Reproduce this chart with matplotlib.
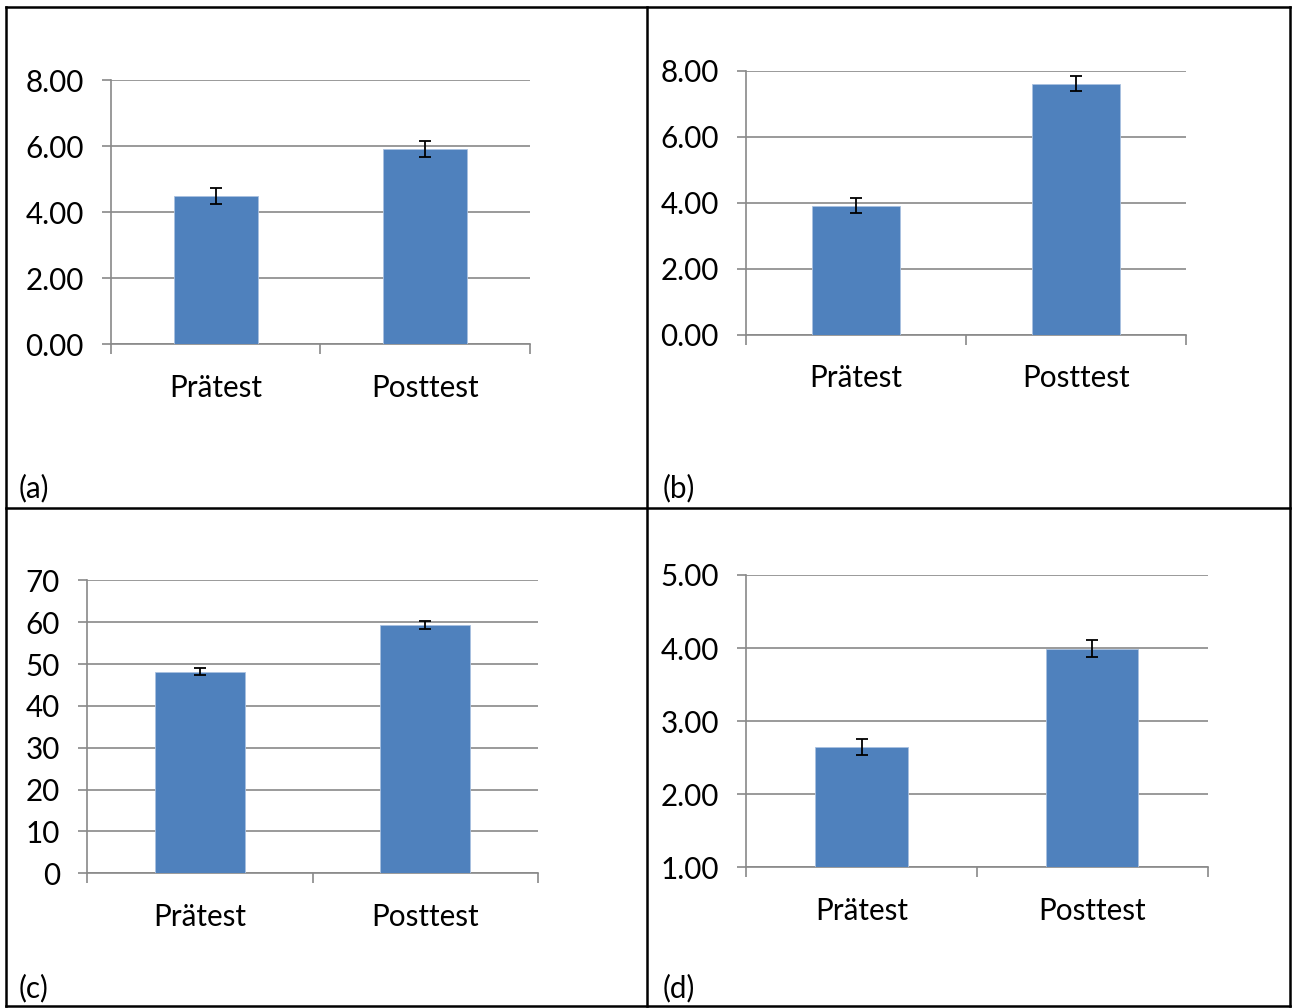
import matplotlib
matplotlib.use("Agg")
import matplotlib.pyplot as plt
from matplotlib.lines import Line2D
from matplotlib.ticker import FormatStrFormatter

plt.rcParams['font.family'] = ['Lato', 'DejaVu Sans']

# ---------------- data ----------------
categories = ["Prätest", "Posttest"]
panel_labels = ["(a)", "(b)", "(c)", "(d)"]

means_a = [4.49, 5.92]
err_a = [0.25, 0.25]
ticks_a = [0, 2, 4, 6, 8]

means_b = [3.91, 7.61]
err_b = [0.22, 0.22]
ticks_b = [0, 2, 4, 6, 8]

means_c = [48.2, 59.3]
err_c = [0.9, 0.92]
ticks_c = [0, 10, 20, 30, 40, 50, 60, 70]

means_d = [2.65, 3.99]
err_d = [0.11, 0.115]
ticks_d = [1, 2, 3, 4, 5]

# ---------------- style ----------------
BLUE = "#4F81BD"
EDGE = "#A9C1E0"
GRID = "#898989"
FS = 21.3

W, H = 1294, 1008
fig = plt.figure(figsize=(W / 100, H / 100), dpi=100)


def px_axes(x0, x1, ytop, ybot):
    return fig.add_axes([x0 / W, 1 - ybot / H, (x1 - x0) / W, (ybot - ytop) / H])


panels = [
    (px_axes(111, 529.6, 80.3, 344.0), means_a, err_a, ticks_a, "%.2f"),
    (px_axes(745.8, 1186.0, 70.7, 334.5), means_b, err_b, ticks_b, "%.2f"),
    (px_axes(87.1, 538.0, 580.3, 873.3), means_c, err_c, ticks_c, "%d"),
    (px_axes(746.2, 1207.7, 575.0, 867.3), means_d, err_d, ticks_d, "%.2f"),
]

for ax, means, errs, ticks, fmt in panels:
    x = list(range(len(categories)))
    ax.bar(x, means, width=0.4, color=BLUE, edgecolor=EDGE, linewidth=0.6,
           yerr=errs, capsize=4.3, zorder=3,
           error_kw=dict(elinewidth=1.3, capthick=1.3, ecolor="black", zorder=4))
    ax.set_xlim(-0.5, len(categories) - 0.5)
    ax.set_ylim(ticks[0], ticks[-1])
    ax.set_yticks(ticks)
    ax.yaxis.set_major_formatter(FormatStrFormatter(fmt))
    ax.grid(axis="y", color=GRID, linewidth=1.2, zorder=0)
    ax.set_axisbelow(True)
    for s in ("top", "right"):
        ax.spines[s].set_visible(False)
    for s in ("left", "bottom"):
        ax.spines[s].set_color(GRID)
        ax.spines[s].set_linewidth(1.2)
    ax.set_xticks(x)
    ax.set_xticklabels(categories)
    ax.set_xticks([i - 0.5 for i in range(len(categories) + 1)], minor=True)
    ax.tick_params(axis="x", which="major", length=0, pad=21.5, labelsize=FS)
    ax.tick_params(axis="x", which="minor", length=7.2, width=1.2, color=GRID,
                   direction="out")
    ax.tick_params(axis="y", which="major", length=6.5, width=1.2, color=GRID,
                   pad=13, labelsize=FS)

# panel labels
label_pos = [(19, 497), (663, 497), (19, 997), (663, 997)]
for (lx, ly), lab in zip(label_pos, panel_labels):
    fig.text(lx / W, 1 - ly / H, lab, ha="left", va="baseline", fontsize=FS)

# table borders
def hline(y, x0, x1):
    fig.add_artist(Line2D([x0 / W, x1 / W], [1 - y / H, 1 - y / H],
                          color="black", linewidth=1.8, transform=fig.transFigure))

def vline(x, y0, y1):
    fig.add_artist(Line2D([x / W, x / W], [1 - y0 / H, 1 - y1 / H],
                          color="black", linewidth=1.8, transform=fig.transFigure))

hline(7, 6, 1290)
hline(507.5, 6, 1290)
hline(1006, 6, 1290)
vline(6, 7, 1006)
vline(647, 7, 1006)
vline(1290, 7, 1006)

fig.savefig("out.png", dpi=100)
